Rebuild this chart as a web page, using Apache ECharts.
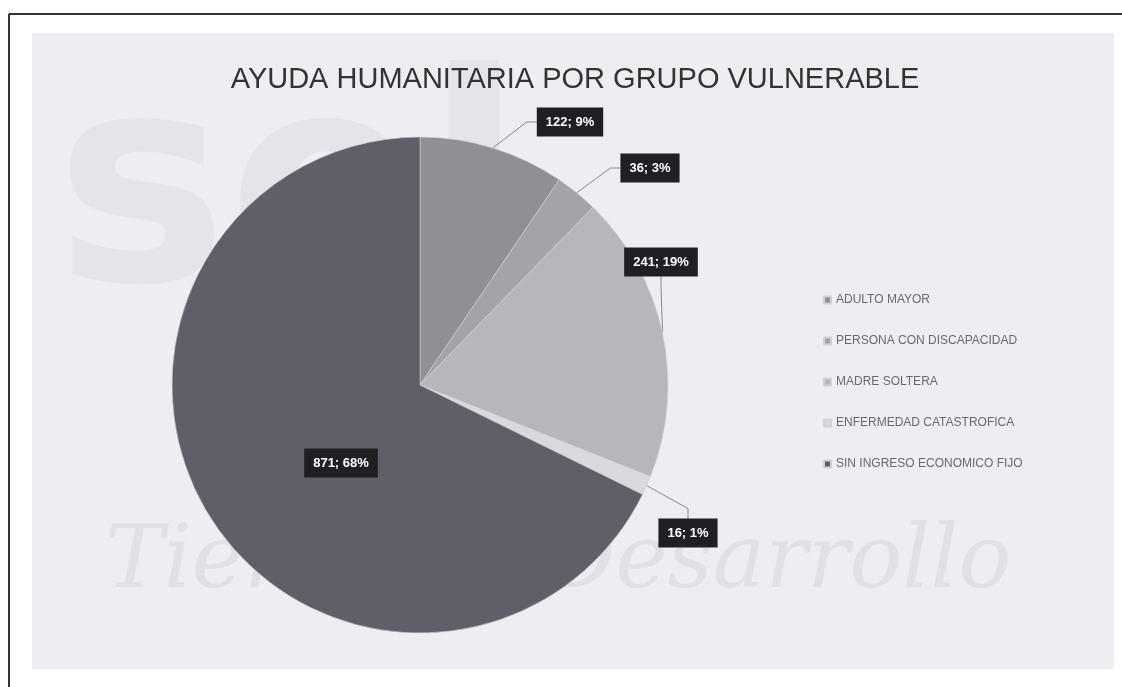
<!DOCTYPE html>
<html>
<head>
<meta charset="utf-8">
<script src="https://cdn.jsdelivr.net/npm/echarts@6/dist/echarts.min.js"></script>
<style>
html,body{margin:0;padding:0;background:#fff;}
#chart{width:1122px;height:687px;}
</style>
</head>
<body>
<div id="chart"></div>
<script>
const titleText = 'AYUDA HUMANITARIA POR GRUPO VULNERABLE';
const categories = ['ADULTO MAYOR','PERSONA CON DISCAPACIDAD','MADRE SOLTERA','ENFERMEDAD CATASTROFICA','SIN INGRESO ECONOMICO FIJO'];
const values = [122, 36, 241, 16, 871];
const percentLabels = ['9%','3%','19%','1%','68%'];
const sliceColors = ['#8f9095','#a3a4a9','#b6b7bb','#d8d9dd','#5e5f67'];

// label box centres (layout only)
const labelPos = [[570,122],[650,168],[661,262],[688,533],[341,463]];

const chart = echarts.init(document.getElementById('chart'), null, {renderer:'canvas'});

const data = categories.map((c,i)=>({
  name:c, value:values[i],
  itemStyle:{color:sliceColors[i]},
  labelLine:{show:i!==4}
}));

chart.setOption({
  backgroundColor:'#ffffff',
  animation:false,
  graphic:[
    {type:'rect', z:-10, shape:{x:32,y:33,width:1082,height:636}, style:{fill:'#eceef2'}},
    {type:'line', z:-9, shape:{x1:9,y1:14,x2:1122,y2:14}, style:{stroke:'#333',lineWidth:2}},
    {type:'line', z:-9, shape:{x1:9,y1:14,x2:9,y2:687}, style:{stroke:'#333',lineWidth:2}},
    {type:'text', z:-8, left:55, top:60, style:{text:'sel', font:'bold 290px "DejaVu Sans"', fill:'#e3e5ea'}},
    {type:'text', z:-8, left:105, top:520, style:{text:'Tierra de Desarrollo', font:'italic 88px "DejaVu Serif"', fill:'#dfe1e6'}}
  ],
  title:{
    text:titleText, left:570, top:60, textAlign:'center',
    textStyle:{fontFamily:'"Liberation Sans Narrow","Liberation Sans",sans-serif', fontSize:29, fontWeight:'normal', color:'#333'}
  },
  legend:{
    orient:'vertical', left:818, top:289,
    itemWidth:7, itemHeight:7, itemGap:29, icon:'rect',
    textStyle:{fontFamily:'"Liberation Sans",sans-serif', fontSize:12, color:'#6a6a6a'},
    data:categories
  },
  series:[{
    type:'pie',
    center:[420,385],
    radius:248,
    startAngle:90,
    clockwise:true,
    avoidLabelOverlap:false,
    itemStyle:{borderColor:'#d0d2d6', borderWidth:0.6},
    label:{
      show:true,
      formatter:p=>p.value+'; '+percentLabels[p.dataIndex],
      backgroundColor:'#1f2023',
      color:'#ffffff',
      fontFamily:'"Liberation Sans",sans-serif',
      fontWeight:'bold',
      fontSize:13,
      padding:[8,9]
    },
    labelLine:{show:true, length:20, length2:10, lineStyle:{color:'#888', width:1}},
    labelLayout:function(params){
      const p = labelPos[params.dataIndex];
      return {x:p[0], y:p[1], align:'center', verticalAlign:'middle'};
    },
    data:data
  }]
});
</script>
</body>
</html>
